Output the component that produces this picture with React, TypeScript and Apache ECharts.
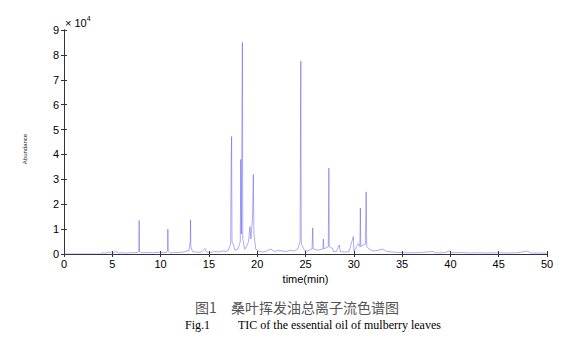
import React, { useEffect, useRef } from "react";
import * as echarts from "echarts";

// Retention time (min)
const times: number[] = [
  0, 3.8, 4.0, 4.3, 4.6, 4.8, 5.0, 5.1, 5.4, 5.6, 6.0, 6.5, 7.0, 7.6, 7.74, 7.78, 7.82, 8.0, 8.6, 9.2,
  9.8, 10.6, 10.72, 10.75, 10.79, 11.0, 11.8, 12.4, 12.95, 13.07, 13.1, 13.13, 13.3, 13.6, 14.0, 14.3, 14.6, 14.75, 15.2, 15.6,
  16.0, 16.4, 16.8, 17.0, 17.25, 17.31, 17.35, 17.39, 17.55, 17.7, 18.0, 18.25, 18.3, 18.36, 18.43, 18.47, 18.51, 18.7, 18.9, 19.1,
  19.25, 19.35, 19.52, 19.6, 19.66, 19.85, 20.2, 20.6, 21.0, 21.4, 21.8, 22.2, 22.6, 23.0, 23.4, 23.8, 24.2, 24.44, 24.49, 24.52,
  24.56, 24.9, 25.2, 25.68, 25.75, 25.8, 26.3, 26.8, 26.85, 26.9, 27.36, 27.42, 27.46, 27.8, 27.9, 28.2, 28.5, 28.6, 29.0, 29.5,
  29.95, 30.02, 30.3, 30.45, 30.63, 30.68, 30.72, 31.2, 31.28, 31.34, 31.6, 32.0, 32.5, 33.0, 33.4, 34.0, 35.0, 36.0, 37.0, 38.2,
  38.5, 39.5, 39.8, 40.1, 41.0, 42.0, 43.0, 44.0, 45.0, 46.0, 47.0, 48.0, 48.3, 49.0, 50.0,
];

// Abundance (×10^4)
const abundance: number[] = [
  0, 0, 0.05, 0.03, 0.08, 0.04, 0.12, 0.05, 0.1, 0.04, 0.05, 0.04, 0.05, 0.06, 0.1, 1.35, 0.1, 0.05, 0.06, 0.05,
  0.07, 0.06, 0.15, 1.0, 0.12, 0.05, 0.06, 0.08, 0.15, 0.5, 1.37, 0.3, 0.1, 0.08, 0.07, 0.1, 0.22, 0.08, 0.06, 0.1,
  0.08, 0.12, 0.1, 0.15, 0.4, 3.8, 4.72, 0.5, 0.36, 0.15, 0.2, 0.5, 3.8, 0.8, 6.2, 8.5, 0.6, 0.2, 0.3, 0.5,
  1.1, 0.6, 1.5, 3.2, 0.8, 0.2, 0.1, 0.08, 0.12, 0.2, 0.1, 0.15, 0.12, 0.1, 0.15, 0.12, 0.2, 0.5, 6.3, 7.75,
  0.4, 0.15, 0.12, 0.2, 1.05, 0.2, 0.15, 0.2, 0.6, 0.2, 0.3, 3.45, 0.3, 0.22, 0.1, 0.1, 0.36, 0.1, 0.08, 0.1,
  0.7, 0.1, 0.3, 0.42, 0.3, 1.85, 0.3, 0.4, 2.5, 0.3, 0.2, 0.12, 0.15, 0.2, 0.1, 0.08, 0.05, 0.05, 0.06, 0.1,
  0.04, 0.06, 0.12, 0.05, 0.06, 0.04, 0.05, 0.04, 0.05, 0.04, 0.05, 0.12, 0.04, 0.04, 0.03,
];

const xTicks = { min: 0, max: 50, interval: 5 };
const yTicks = { min: 0, max: 9, interval: 1 };

const xAxisTitle = "time(min)";
const yAxisTitle = "Abundance";
const captionCn = "图1　桑叶挥发油总离子流色谱图";
const captionFig = "Fig.1";
const captionEn = "TIC of the essential oil of mulberry leaves";

export default function App() {
  const ref = useRef<HTMLDivElement>(null);
  useEffect(() => {
    if (!ref.current) return;
    const chart = echarts.init(ref.current, undefined, { renderer: "svg" });
    const axisColor = "#333";
    const labelFont = { fontFamily: "Liberation Sans, Arial, sans-serif", fontSize: 11, color: "#000" };
    const boxAxis = (extra: any) => ({
      type: "value",
      axisLine: { show: true, lineStyle: { color: axisColor, width: 1 } },
      axisTick: { show: true, inside: true, length: 3, lineStyle: { color: axisColor } },
      splitLine: { show: false },
      ...extra,
    });
    chart.setOption({
      animation: false,
      grid: { left: 64, right: 24, top: 30, bottom: 90, containLabel: false },
      xAxis: [
        boxAxis({
          position: "bottom",
          ...xTicks,
          axisLabel: { ...labelFont, margin: 4 },
          name: xAxisTitle,
          nameLocation: "middle",
          nameGap: 14,
          nameTextStyle: { ...labelFont },
        }),
        boxAxis({ position: "top", ...xTicks, axisLabel: { show: false } }),
      ],
      yAxis: [
        boxAxis({ position: "left", ...yTicks, axisLabel: { ...labelFont, margin: 5 } }),
        boxAxis({ position: "right", ...yTicks, axisLabel: { show: false } }),
      ],
      series: [
        {
          type: "line",
          xAxisIndex: 0,
          yAxisIndex: 0,
          data: times.map((t, i) => [t, abundance[i]]),
          showSymbol: false,
          symbol: "none",
          lineStyle: { color: "rgba(70,70,235,0.45)", width: 1 },
        },
      ],
      graphic: [
        {
          type: "text",
          left: 65,
          top: 15,
          style: {
            text: "{a|× 10}{b|4}",
            rich: {
              a: { fontFamily: "Liberation Sans, Arial, sans-serif", fontSize: 11, fill: "#000", verticalAlign: "bottom" },
              b: { fontFamily: "Liberation Sans, Arial, sans-serif", fontSize: 7, fill: "#000", verticalAlign: "top", padding: [0, 0, 6, 0] },
            },
          },
        },
        {
          type: "text",
          x: 25,
          y: 149,
          rotation: Math.PI / 2,
          style: {
            text: yAxisTitle,
            fontSize: 6,
            fontFamily: "Liberation Sans, Arial, sans-serif",
            fill: "#222",
            align: "center",
            verticalAlign: "middle",
          },
        },
        {
          type: "text",
          x: 297,
          y: 307,
          style: {
            text: captionCn,
            fontSize: 14,
            fontFamily: "Noto Sans CJK SC, serif",
            fill: "#555",
            align: "center",
            verticalAlign: "middle",
          },
        },
        {
          type: "text",
          x: 185,
          y: 325,
          style: {
            text: captionFig,
            fontSize: 12,
            fontFamily: "Liberation Serif, serif",
            fill: "#000",
            align: "left",
            verticalAlign: "middle",
          },
        },
        {
          type: "text",
          x: 238,
          y: 325,
          style: {
            text: captionEn,
            fontSize: 12,
            fontFamily: "Liberation Serif, serif",
            fill: "#000",
            align: "left",
            verticalAlign: "middle",
          },
        },
      ],
    });
    return () => chart.dispose();
  }, []);
  return (
    <div
      ref={ref}
      style={{ position: "absolute", left: 0, top: 0, width: 571, height: 344, background: "#fff" }}
    />
  );
}
